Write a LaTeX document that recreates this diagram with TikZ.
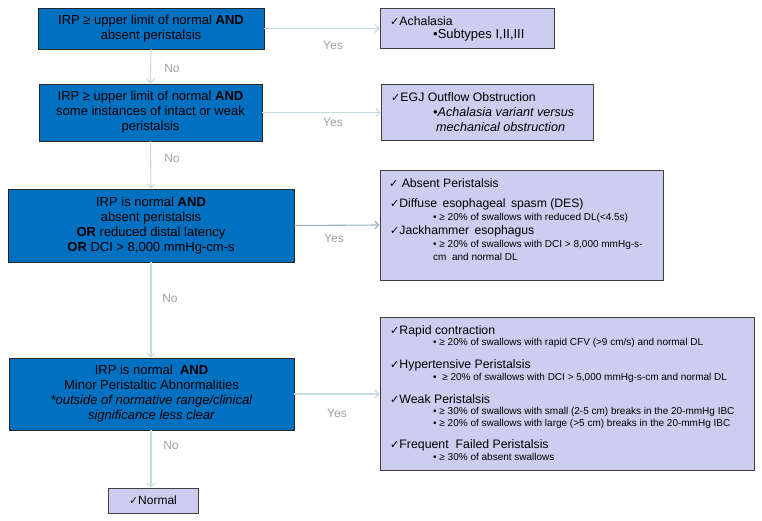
\documentclass[tikz,border=0pt]{standalone}
\usepackage{fontspec}
\setmainfont{Liberation Sans}
\newfontfamily\dvfont{DejaVu Sans}
\usetikzlibrary{arrows.meta}
\definecolor{qblue}{HTML}{0070C0}
\definecolor{lav}{HTML}{CDCDEF}
\definecolor{conncol}{HTML}{C6DCE3}
\definecolor{conndark}{HTML}{9AB3B9}
\definecolor{lblcol}{HTML}{A0A0A0}
\newcommand{\chk}{{\dvfont\scalebox{0.9}{\char"2713}}}
\begin{document}
\begin{tikzpicture}[x=1pt,y=-1pt,
  qbox/.style={draw=black!85, fill=qblue, line width=0.8pt, inner sep=0pt,
    align=center, font=\fontsize{13}{15}\selectfont, text=black},
  rbox/.style={draw=black!75, fill=lav, line width=0.9pt, inner sep=0pt},
  hd/.style={anchor=base west, inner sep=0pt, font=\fontsize{12.3}{14}\selectfont},
  hdb/.style={anchor=base west, inner sep=0pt, font=\fontsize{12.2}{14}\selectfont},
  sb/.style={anchor=base west, inner sep=0pt, font=\fontsize{10}{12}\selectfont},
  conn/.style={draw=conncol, line width=1.1pt, -{Straight Barb[length=4pt,width=8pt]}},
  lbl/.style={text=lblcol, font=\fontsize{12}{14}\selectfont, inner sep=0pt}]
\useasboundingbox (0,0) rectangle (762,521);
\fill[white] (0,0) rectangle (762,521);

% question boxes
\node[qbox, minimum width=226pt, minimum height=41pt] (q1) at (151,28.5)
  {IRP ≥ upper limit of normal \textbf{AND}\\absent peristalsis};
\node[qbox, minimum width=223pt, minimum height=57pt] (q2) at (150.5,112.5)
  {IRP ≥ upper limit of normal \textbf{AND}\\some instances of intact or weak\\peristalsis};
\node[qbox, minimum width=286pt, minimum height=73pt] (q3) at (151,225.5)
  {IRP is normal \textbf{AND}\\absent peristalsis\\\textbf{OR} reduced distal latency\\\textbf{OR} DCI > 8,000 mmHg-cm-s};
\node[qbox, minimum width=285pt, minimum height=72pt] (q4) at (151.5,394)
  {IRP is normal\ \ \textbf{AND}\\Minor Peristaltic Abnormalities\\\textit{*outside of normative range/clinical}\\\textit{significance less clear}};

% result boxes
\node[rbox, minimum width=174pt, minimum height=40pt] (r1) at (467,28) {};
\node[rbox, minimum width=212pt, minimum height=56pt] (r2) at (487,112) {};
\node[rbox, minimum width=283pt, minimum height=110pt] (r3) at (521.5,225) {};
\node[rbox, minimum width=374pt, minimum height=153pt] (r4) at (567,393.5) {};
\node[rbox, minimum width=90pt, minimum height=25pt, font=\fontsize{12}{14}\selectfont] (nrm) at (153,500.5) {\chk Normal};

% texts of result boxes
\node[hd] (t1a) at (390,25.3) {\chk Achalasia};
\node[hd, font=\fontsize{13}{15}\selectfont] (t1b) at (433,38.5) {•Subtypes I,II,III};

\node[hd] (t2a) at (391,101.3) {\chk EGJ Outflow\ Obstruction};
\node[hd, font=\fontsize{12.6}{15}\selectfont] (t2b) at (433,116.4) {\textit{•Achalasia variant\ versus}};
\node[hd, font=\fontsize{12.6}{15}\selectfont] (t2c) at (436,131.4) {\textit{mechanical obstruction}};

\node[hdb] (t3a) at (389,187.4) {\chk\ Absent Peristalsis};
\node[hdb] (t3b) at (390,207.4) {\chk Diffuse\hspace{2pt} esophageal\hspace{2pt} spasm (DES)};
\node[sb]  (t3c) at (433,220.6) {• ≥ 20\% of swallows with reduced DL(<4.5s)};
\node[hdb] (t3d) at (390,234.4) {\chk Jackhammer\hspace{2pt} esophagus};
\node[sb]  (t3e) at (433,247.6) {• ≥ 20\% of swallows with DCI > 8,000 mmHg-s-};
\node[sb]  (t3f) at (433,260.6) {cm\ \ and normal DL};

\node[hd] (t4a) at (390,334.3) {\chk Rapid\ contraction};
\node[sb] (t4b) at (433,345.6) {• ≥ 20\% of swallows with rapid CFV (>9 cm/s) and normal DL};
\node[hd] (t4c) at (390,368.3) {\chk Hypertensive\ Peristalsis};
\node[sb] (t4d) at (433,380.6) {•\ \ ≥ 20\% of swallows with DCI > 5,000 mmHg-s-cm and normal DL};
\node[hd] (t4e) at (390,403.3) {\chk Weak Peristalsis};
\node[sb] (t4f) at (433,414.6) {• ≥ 30\% of swallows with small (2-5 cm) breaks in the 20-mmHg\ IBC};
\node[sb] (t4g) at (433,426.6) {• ≥ 20\% of swallows with large (>5 cm) breaks in\ the 20-mmHg\ IBC};
\node[hd] (t4h) at (390,448.3) {\chk Frequent\hspace{7pt}Failed Peristalsis};
\node[sb] (t4i) at (433,460.6) {• ≥ 30\% of absent swallows};

% connectors
\draw[conn] (q1.south) -- (q2.north);
\draw[conn] (q2.south) -- (q3.north);
\draw[conn] (q3.south) -- (q4.north -| q3.south);
\draw[conn] (q4.south -| q3.south) -- (nrm.north -| q3.south);

\draw[conn] (q1.east) -- (q1.east -| r1.west);
\draw[conn] (q2.east) -- (q2.east -| r2.west);
\draw[conn, draw=conndark] (q3.east) -- (r3.west);
\draw[conn] (q4.east) -- (q4.east -| r4.west);

% labels
\node[lbl] (y1) at (333,45) {Yes};
\node[lbl] (y2) at (333,122) {Yes};
\node[lbl] (y3) at (334,238) {Yes};
\node[lbl] (y4) at (337,413) {Yes};
\node[lbl] (n1) at (172,68) {No};
\node[lbl] (n2) at (172,158) {No};
\node[lbl] (n3) at (170,298) {No};
\node[lbl] (n4) at (171,445) {No};
\end{tikzpicture}
\end{document}
